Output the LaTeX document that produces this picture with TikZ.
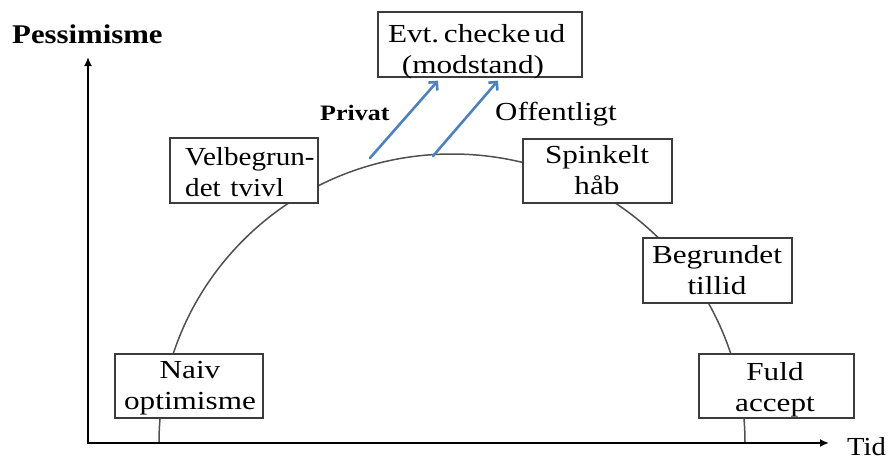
\documentclass[tikz,border=0pt]{standalone}
\usepackage{fontspec}
\usepackage{graphicx}
\setmainfont{Liberation Serif}
\usetikzlibrary{arrows.meta}
\definecolor{arrowblue}{RGB}{79,129,189}
\definecolor{boxgray}{RGB}{60,60,60}
\definecolor{curvegray}{RGB}{80,80,80}
\newcommand\hsx[1]{\scalebox{1.2}[1]{#1}}
\begin{document}
\begin{tikzpicture}[x=1pt,y=-1pt,
  box/.style={draw=boxgray, line width=1.3pt, fill=white, inner sep=0pt},
  boxtext/.style={font=\fontsize{26}{31}\selectfont, inner sep=0pt, anchor=base, text width=170pt, align=center},
  lbl/.style={inner sep=0pt, anchor=base west},
  axis/.style={line width=2.6pt, -{Latex[length=9pt,width=8pt]}},
  blue arrow/.style={draw=arrowblue, line width=2.6pt, line cap=round, -{Straight Barb[length=6pt,width=12pt]}},
  curve/.style={draw=curvegray, line width=1.5pt}]
\useasboundingbox (0,0) rectangle (894,459);

% curve (behind boxes): a half ellipse standing on the time axis
\coordinate (arcstart) at (159,443);
\draw[curve] (arcstart) arc[start angle=180, end angle=0, x radius=293pt, y radius=289pt];

% axes
\coordinate (origin) at (88,443);
\coordinate (ytip) at (88,57);
\coordinate (xtip) at (829,443);
\draw[axis] (origin) -- (ytip);
\draw[axis] ([xshift=-1.3pt]origin) -- (xtip);

% boxes
\node[box, minimum width=204pt, minimum height=65pt] (evt) at (480,44.5) {};
\node[box, minimum width=148pt, minimum height=65pt] (velb) at (244,170.5) {};
\node[box, minimum width=149pt, minimum height=64pt] (spink) at (597.5,171) {};
\node[box, minimum width=149pt, minimum height=65pt] (begr) at (717.5,270.5) {};
\node[box, minimum width=148pt, minimum height=64pt] (naiv) at (189,386) {};
\node[box, minimum width=155pt, minimum height=64pt] (fuld) at (776.5,386) {};

% box texts
\node[boxtext] (evtT) at (473,42) {\hsx{Evt.\hspace{4pt}checke\hspace{3pt}ud}\\[0pt]\hsx{(modstand)}};
\node[boxtext, anchor=base west, align=left, text width=140pt] (velbT) at (185,165) {\scalebox{1.12}[1]{Velbegrun-}\\\scalebox{1.12}[1]{det tvivl}};
\node[boxtext] (spinkT) at (597,163) {\hsx{Spinkelt}\\\hsx{håb}};
\node[boxtext] (begrT) at (717,263) {\hsx{Begrundet}\\\hsx{tillid}};
\node[boxtext] (naivT) at (190,378) {\hsx{Naiv}\hspace*{26pt}\\\hsx{optimisme}};
\node[boxtext] (fuldT) at (775,380) {\hsx{Fuld}\hspace*{12pt}\\\hsx{accept}};

% blue arrows
\coordinate (privS) at (370,158);
\coordinate (offS) at (433,156);
\draw[blue arrow] (privS) -- ([xshift=-42pt,yshift=-3pt]evt.south);
\draw[blue arrow] (offS) -- ([xshift=18pt,yshift=-3pt]evt.south);

% labels
\node[lbl, font=\bfseries\fontsize{27}{30}\selectfont] (pess) at (12,43) {\scalebox{1.14}[1]{Pessimisme}};
\node[lbl, font=\bfseries\fontsize{22}{25}\selectfont] (priv) at (320,120) {\scalebox{1.18}[1]{Privat}};
\node[lbl, font=\fontsize{26}{30}\selectfont] (off) at (495,120) {\scalebox{1.19}[1]{Offentligt}};
\node[lbl, font=\fontsize{26}{30}\selectfont] (tid) at (847,455) {\scalebox{1.1}[1]{Tid}};
\end{tikzpicture}
\end{document}
